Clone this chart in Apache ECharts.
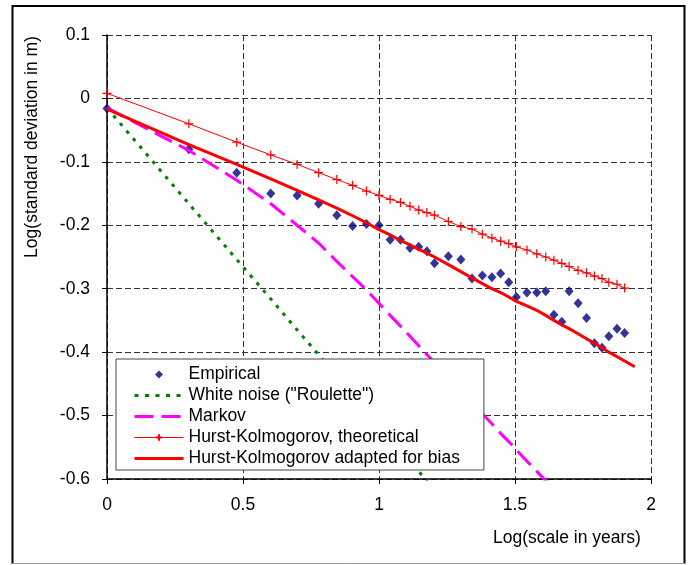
<!DOCTYPE html>
<html>
<head>
<meta charset="utf-8">
<script src="https://cdn.jsdelivr.net/npm/echarts@6/dist/echarts.min.js"></script>
<style>html,body{margin:0;padding:0;background:#fff}#c{width:688px;height:565px}</style>
</head>
<body>
<div id="c"></div>
<script>
// log10 of scale (years)
var logScale = [0, 0.301, 0.477, 0.602, 0.699, 0.778, 0.845, 0.903, 0.954, 1.0,
  1.041, 1.079, 1.114, 1.146, 1.176, 1.204, 1.255, 1.301, 1.342, 1.380,
  1.415, 1.447, 1.477, 1.505, 1.544, 1.580, 1.613, 1.643, 1.672, 1.699,
  1.732, 1.763, 1.792, 1.820, 1.845, 1.875, 1.903];
var empirical = [-0.016, -0.080, -0.117, -0.150, -0.153, -0.166, -0.184, -0.201, -0.198, -0.200,
  -0.223, -0.223, -0.236, -0.234, -0.241, -0.260, -0.249, -0.254, -0.284, -0.279,
  -0.282, -0.276, -0.290, -0.313, -0.306, -0.306, -0.304, -0.341, -0.352, -0.304,
  -0.323, -0.346, -0.386, -0.393, -0.375, -0.363, -0.370];
var hkTheoretical = [0.008, -0.040, -0.069, -0.089, -0.104, -0.117, -0.128, -0.137, -0.146, -0.153,
  -0.159, -0.164, -0.170, -0.176, -0.180, -0.184, -0.194, -0.202, -0.206, -0.214,
  -0.220, -0.225, -0.229, -0.234, -0.239, -0.245, -0.250, -0.255, -0.260, -0.265,
  -0.271, -0.275, -0.280, -0.284, -0.290, -0.293, -0.299];
var hkBiasX = [0, 0.301, 0.477, 0.602, 0.699, 0.778, 0.845, 0.903, 0.954, 1.0,
  1.041, 1.079, 1.114, 1.146, 1.176, 1.204, 1.255, 1.301, 1.342, 1.380,
  1.415, 1.447, 1.477, 1.505, 1.544, 1.580, 1.613, 1.643, 1.672, 1.699,
  1.732, 1.763, 1.792, 1.820, 1.845, 1.875, 1.903, 1.940];
var hkBias = [-0.017, -0.073, -0.104, -0.127, -0.145, -0.160, -0.173, -0.185, -0.196, -0.207,
  -0.215, -0.224, -0.231, -0.238, -0.244, -0.250, -0.262, -0.273, -0.283, -0.292,
  -0.300, -0.306, -0.313, -0.320, -0.327, -0.334, -0.342, -0.350, -0.357, -0.363,
  -0.371, -0.379, -0.386, -0.393, -0.400, -0.407, -0.414, -0.423];
var markovX = [0, 0.301, 0.477, 0.602, 0.699, 0.778, 0.845, 0.903, 0.954, 1.0,
  1.041, 1.079, 1.114, 1.146, 1.176, 1.204, 1.255, 1.301, 1.342, 1.380,
  1.415, 1.447, 1.477, 1.505, 1.544, 1.580, 1.613, 1.643];
var markov = [-0.015, -0.082, -0.129, -0.166, -0.200, -0.228, -0.257, -0.281, -0.302, -0.323,
  -0.342, -0.359, -0.375, -0.390, -0.404, -0.416, -0.440, -0.461, -0.480, -0.497,
  -0.513, -0.528, -0.541, -0.554, -0.572, -0.588, -0.603, -0.616];
var whiteX = [0, 0.301, 0.477, 0.602, 0.699, 0.778, 0.845, 0.903, 0.954, 1.0,
  1.041, 1.079, 1.114, 1.146, 1.176, 1.204];
var whiteNoise = [-0.015, -0.166, -0.254, -0.316, -0.365, -0.404, -0.438, -0.467, -0.492, -0.515,
  -0.536, -0.555, -0.572, -0.588, -0.603, -0.617];
var seriesNames = ['Empirical', 'White noise ("Roulette")', 'Markov',
  'Hurst-Kolmogorov, theoretical', 'Hurst-Kolmogorov adapted for bias'];
var xTitle = 'Log(scale in years)';
var yTitle = 'Log(standard deviation in m)';

function pairs(xs, ys) { return xs.map(function (x, i) { return [x, ys[i]]; }); }

var FONT = '"Liberation Sans", Arial, sans-serif';
var FS = 17.5;
var chart = echarts.init(document.getElementById('c'), null, { renderer: 'canvas' });
var plus = 'path://M5 0L5 10M0 5L10 5';
var diamond = 'path://M5 0L10 5L5 10L0 5Z';
var noMark = 'path://M0 0L1 1';
chart.setOption({
  animation: false,
  backgroundColor: '#fff',
  grid: { left: 107, top: 35, right: 37, bottom: 86, containLabel: false },
  xAxis: {
    type: 'value', min: 0, max: 2, interval: 0.5,
    axisLine: { onZero: false, lineStyle: { color: '#000', width: 1.5 } },
    axisTick: { show: true, inside: false, length: 5, lineStyle: { color: '#000' } },
    axisLabel: { color: '#000', fontSize: FS, fontFamily: FONT, margin: 17 },
    splitLine: { show: true, lineStyle: { color: '#333', type: [6, 3], width: 1 } }
  },
  yAxis: {
    type: 'value', min: -0.6, max: 0.1, interval: 0.1,
    axisLine: { show: true, onZero: false, lineStyle: { color: '#000', width: 1.5 } },
    axisTick: { show: true, inside: false, length: 5, lineStyle: { color: '#000' } },
    axisLabel: { color: '#000', fontSize: FS, fontFamily: FONT, margin: 17,
      formatter: function (v) { return String(Math.round(v * 10) / 10); } },
    splitLine: { show: true, lineStyle: { color: '#333', type: [6, 3], width: 1 } }
  },
  legend: {
    orient: 'vertical', left: 116, top: 359,
    data: [
      { name: seriesNames[0] },
      { name: seriesNames[1], lineStyle: { width: 3, type: [4, 6.5] } },
      { name: seriesNames[2], lineStyle: { width: 3, type: [19, 8] } },
      { name: seriesNames[3], lineStyle: { width: 1 } },
      { name: seriesNames[4], lineStyle: { width: 3 } }
    ],
    backgroundColor: '#fff', borderColor: '#444', borderWidth: 1,
    padding: [5, 24, 1, 17],
    itemWidth: 49, itemHeight: 8, itemGap: 0,
    symbolKeepAspect: true,
    textStyle: { color: '#000', fontSize: FS, fontFamily: FONT, lineHeight: 21 }
  },
  series: [
    {
      name: seriesNames[1], type: 'line', data: pairs(whiteX, whiteNoise),
      showSymbol: false, symbol: noMark, clip: true,
      lineStyle: { color: '#008000', width: 3, type: [3.5, 6.5] },
      itemStyle: { color: 'rgba(0,0,0,0)', borderWidth: 0 }
    },
    {
      name: seriesNames[2], type: 'line', data: pairs(markovX, markov),
      showSymbol: false, symbol: noMark, clip: true,
      lineStyle: { color: '#ff00ff', width: 3, type: [19, 8] },
      itemStyle: { color: 'rgba(0,0,0,0)', borderWidth: 0 }
    },
    {
      name: seriesNames[3], type: 'line', data: pairs(logScale, hkTheoretical),
      symbol: plus, symbolSize: 9, showSymbol: true, clip: true,
      lineStyle: { color: '#ff0000', width: 1 },
      itemStyle: { color: '#ff0000', borderColor: '#ff0000', borderWidth: 1.2 }
    },
    {
      name: seriesNames[4], type: 'line', data: pairs(hkBiasX, hkBias),
      showSymbol: false, symbol: noMark, clip: true,
      lineStyle: { color: '#ff0000', width: 3 },
      itemStyle: { color: 'rgba(0,0,0,0)', borderWidth: 0 }
    },
    {
      name: seriesNames[0], type: 'scatter', data: pairs(logScale, empirical),
      symbol: diamond, symbolSize: [9, 10], symbolKeepAspect: true,
      itemStyle: { color: '#000080' }
    }
  ],
  graphic: [
    { type: 'text', x: 567, y: 538, style: { text: xTitle, fill: '#000', font: FS + 'px ' + FONT, textAlign: 'center', textVerticalAlign: 'middle' } },
    { type: 'text', x: 32, y: 147, rotation: Math.PI / 2, style: { text: yTitle, fill: '#000', font: FS + 'px ' + FONT, textAlign: 'center', textVerticalAlign: 'middle' } },
    { type: 'polyline', shape: { points: [[12.5, 564], [12.5, 6], [684.5, 6], [684.5, 564]] }, style: { stroke: '#000', lineWidth: 2, fill: null } },
    { type: 'line', shape: { x1: 12, y1: 563.5, x2: 685, y2: 563.5 }, style: { stroke: '#999', lineWidth: 1 } }
  ]
});
</script>
</body>
</html>
